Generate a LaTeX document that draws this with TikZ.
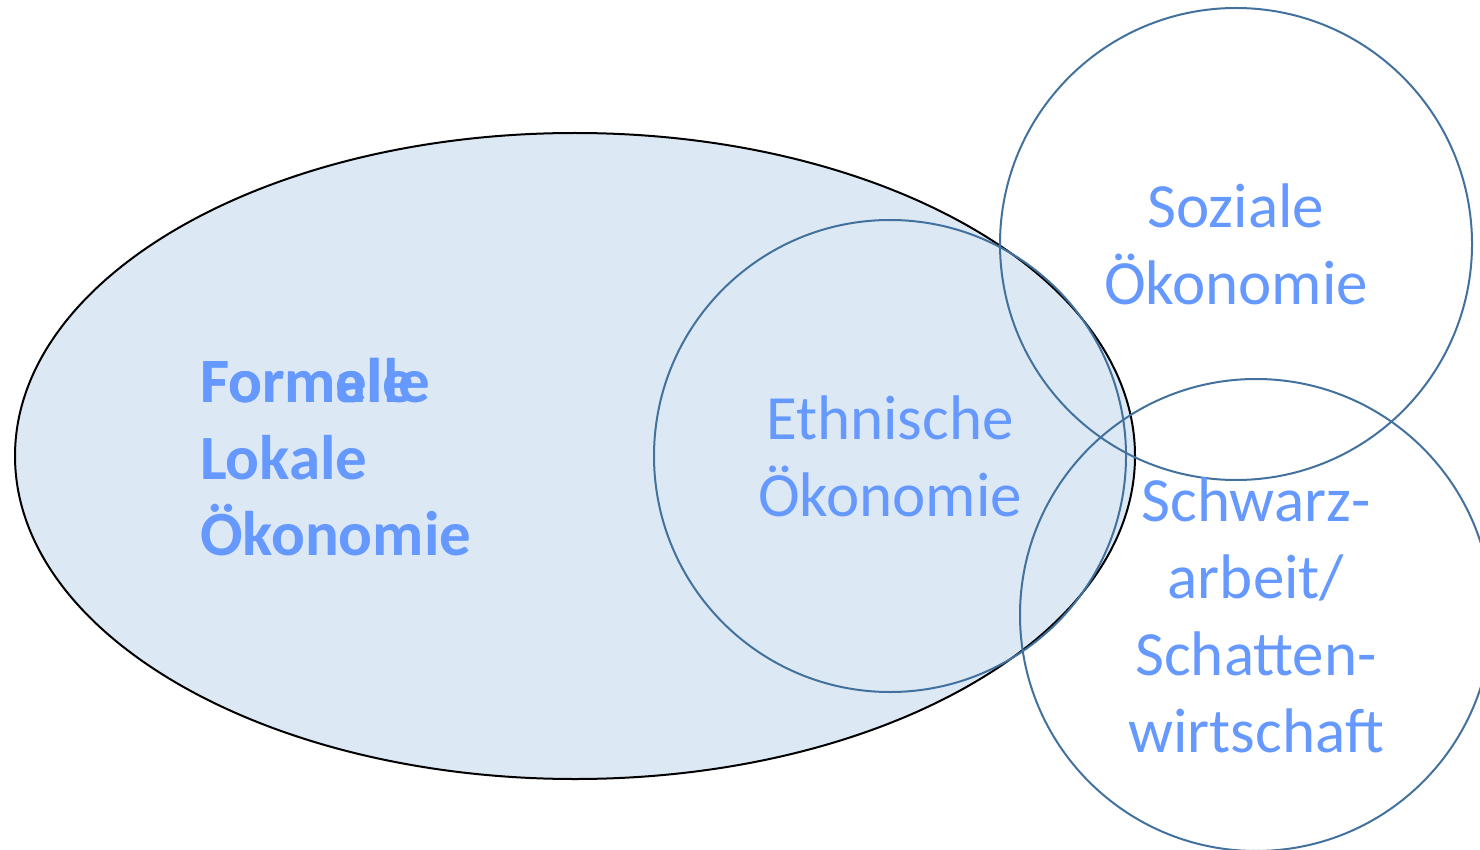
\documentclass[tikz,border=0pt]{standalone}
\usepackage{fontspec}
\setmainfont{Carlito}
\usepackage{tikz}
\usetikzlibrary{shapes.geometric}
\definecolor{fillblue}{RGB}{221,232,245}
\definecolor{ringblue}{RGB}{65,113,156}
\definecolor{textblue}{RGB}{102,153,255}
\tikzset{
  ring/.style={circle, draw=ringblue, line width=2pt, inner sep=0pt, minimum size=472pt,
    align=center, text=textblue, font=\fontsize{63}{77}\selectfont},
  boldtext/.style={anchor=base west, inner sep=0pt, text=textblue, font=\bfseries\fontsize{63}{77}\selectfont}
}
\begin{document}
\begin{tikzpicture}[x=1pt,y=-1pt]
    \useasboundingbox (0,0) rectangle (1480,850);
    \node[ellipse, draw=black, line width=2pt, fill=fillblue, inner sep=0pt,
          minimum width=1120pt, minimum height=646pt] (formal) at (575,456) {};
    \node[boldtext] (formale) at (200,402) {Formale};
    \node[boldtext] (formelle) at (200,402) {Formelle};
    \node[boldtext] (lokale) at (200,479) {Lokale};
    \node[boldtext] (oekonomie) at (200,555) {Ökonomie};

    \node[ring] (ethnisch) at (890,456) {Ethnische\\Ökonomie};
    \node[ring] (sozial) at (1236,244) {Soziale\\Ökonomie};
    \node[ring] (schwarz) at (1256,615) {Schwarz-\\arbeit/\\Schatten-\\wirtschaft};
\end{tikzpicture}
\end{document}
